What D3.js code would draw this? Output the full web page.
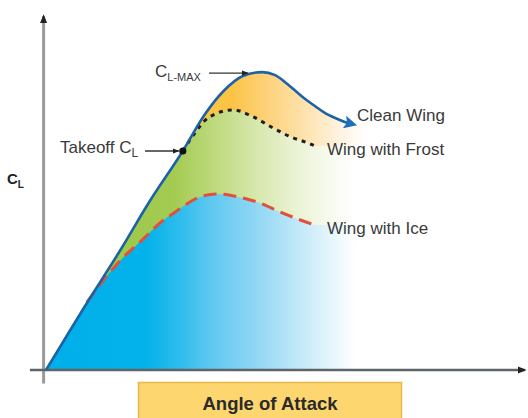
<!DOCTYPE html>
<html>
<head>
<meta charset="utf-8">
<script src="https://cdn.jsdelivr.net/npm/d3@7"></script>
<style>
  html, body { margin: 0; padding: 0; background: #fff; }
  svg { display: block; }
  text { font-family: "Liberation Sans", Arial, Helvetica, sans-serif; }
</style>
</head>
<body>
<svg id="chart" width="528" height="418"></svg>
<script>
// ---- data (angle of attack vs. lift coefficient, arbitrary units) ----
const cleanAoA = [0, 1.6, 3.1, 4.3, 5.7, 6.6, 7.4, 8.2, 9.0, 9.55, 9.95, 10.4, 10.8, 11.2, 11.6, 12.05, 12.45, 12.75];
const cleanCL  = [0, 0.21, 0.40, 0.56, 0.73, 0.85, 0.93, 0.98, 0.993, 0.983, 0.96, 0.93, 0.903, 0.88, 0.858, 0.84, 0.827, 0.82];

const frostAoA = [5.7, 6.2, 6.6, 7.1, 7.8, 8.6, 9.5, 10.2, 10.9, 11.2];
const frostCL  = [0.73, 0.79, 0.83, 0.855, 0.867, 0.845, 0.805, 0.777, 0.757, 0.747];

const iceAoA = [1.7, 2.4, 3.0, 4.0, 4.75, 5.5, 6.3, 7.1, 8.0, 8.9, 9.75, 10.6, 11.2];
const iceCL  = [0.225, 0.30, 0.357, 0.433, 0.49, 0.533, 0.573, 0.587, 0.577, 0.557, 0.527, 0.50, 0.483];

const takeoffAoA = 5.7, takeoffCL = 0.73;
const clMaxAoA = 9.0, clMaxCL = 0.993;
const fadeEndAoA = 14.0;   // where the shaded regions have faded to white

const seriesLabels = ["Clean Wing", "Wing with Frost", "Wing with Ice"];
const xTitle = "Angle of Attack";

// ---- scales ----
const svg = d3.select("#chart");
const x = d3.scaleLinear().domain([0, 20]).range([46, 526]);
const y = d3.scaleLinear().domain([0, 1.2]).range([370, 10]);

const zip = (a, b) => a.map((v, i) => ({a: v, c: b[i]}));
const clean = zip(cleanAoA, cleanCL);
const frost = zip(frostAoA, frostCL);
const ice = zip(iceAoA, iceCL);

const defs = svg.append("defs");
function grad(id, stops) {
  const g = defs.append("linearGradient").attr("id", id)
    .attr("gradientUnits", "userSpaceOnUse")
    .attr("x1", x(0)).attr("x2", x(fadeEndAoA)).attr("y1", 0).attr("y2", 0);
  stops.forEach(s => g.append("stop").attr("offset", s[0]).attr("stop-color", s[1]));
}
grad("gYellow", [[0, "#fbbf3a"], [0.55, "#fcc445"], [0.66, "#fdd27a"], [0.78, "#fee4b2"], [0.88, "#fff3e2"], [0.95, "#ffffff"], [1, "#ffffff"]]);
grad("gGreen",  [[0, "#96c53f"], [0.38, "#a3cb52"], [0.5, "#bdd97c"], [0.62, "#d6e7aa"], [0.75, "#ebf3d5"], [0.85, "#f8fbf0"], [0.92, "#ffffff"], [1, "#ffffff"]]);
grad("gBlue",   [[0, "#00afe9"], [0.3, "#03b2ea"], [0.4, "#2fbded"], [0.5, "#62c9f0"], [0.62, "#8fd6f4"], [0.74, "#bde7f8"], [0.85, "#e6f6fc"], [0.92, "#ffffff"], [1, "#ffffff"]]);

const area = d3.area().x(d => x(d.a)).y0(y(0)).y1(d => y(d.c)).curve(d3.curveMonotoneX);
const line = d3.line().x(d => x(d.a)).y(d => y(d.c)).curve(d3.curveMonotoneX);

const withTail = arr => arr.concat([{a: fadeEndAoA, c: arr[arr.length - 1].c}]);

// fills (painter's order)
svg.append("path").attr("d", area(withTail(clean))).attr("fill", "url(#gYellow)");
const greenData = clean.filter(d => d.a < takeoffAoA).concat(frost);
svg.append("path").attr("d", area(withTail(greenData))).attr("fill", "url(#gGreen)");
const blueData = [clean[0]].concat(ice);
svg.append("path").attr("d", area(withTail(blueData))).attr("fill", "url(#gBlue)");

// markers
defs.append("marker").attr("id", "arrBlue").attr("viewBox", "0 0 10 10")
  .attr("refX", 6).attr("refY", 5).attr("markerWidth", 5).attr("markerHeight", 5)
  .attr("orient", "auto").attr("markerUnits", "strokeWidth")
  .append("path").attr("d", "M0,0 L10,5 L0,10 L2,5 Z").attr("fill", "#1f6fc0");
defs.append("marker").attr("id", "arrDark").attr("viewBox", "0 0 10 10")
  .attr("refX", 9).attr("refY", 5).attr("markerWidth", 7).attr("markerHeight", 7)
  .attr("orient", "auto").attr("markerUnits", "userSpaceOnUse")
  .append("path").attr("d", "M0,1 L10,5 L0,9 Z").attr("fill", "#222");
defs.append("marker").attr("id", "arrAxis").attr("viewBox", "0 0 10 10")
  .attr("refX", 8).attr("refY", 5).attr("markerWidth", 9).attr("markerHeight", 9)
  .attr("orient", "auto").attr("markerUnits", "userSpaceOnUse")
  .append("path").attr("d", "M0,1 L10,5 L0,9 Z").attr("fill", "#222");

// axes
svg.append("line").attr("x1", x(-0.1)).attr("x2", x(-0.1)).attr("y1", y(-0.045)).attr("y2", y(1.18))
  .attr("stroke", "#9a9a9a").attr("stroke-width", 3).attr("marker-end", "url(#arrAxis)");
svg.append("line").attr("x1", x(-0.67)).attr("x2", x(19.95)).attr("y1", y(0)).attr("y2", y(0))
  .attr("stroke", "#5e6468").attr("stroke-width", 2.5).attr("marker-end", "url(#arrAxis)");

// curves
svg.append("path").attr("d", line(ice)).attr("fill", "none")
  .attr("stroke", "#e0503c").attr("stroke-width", 3).attr("stroke-dasharray", "13,7");
svg.append("path").attr("d", line(frost)).attr("fill", "none")
  .attr("stroke", "#1e1e1e").attr("stroke-width", 3).attr("stroke-dasharray", "4,5");
svg.append("path").attr("d", line(clean)).attr("fill", "none")
  .attr("stroke", "#1e62a6").attr("stroke-width", 2.6).attr("marker-end", "url(#arrBlue)");

// takeoff point
svg.append("circle").attr("cx", x(takeoffAoA)).attr("cy", y(takeoffCL)).attr("r", 3.6).attr("fill", "#111");

// annotations
const txt = (t, px, py, size, opts = {}) => svg.append("text").attr("x", px).attr("y", py)
  .attr("font-size", size).attr("fill", opts.fill || "#3a3a3a")
  .attr("font-weight", opts.bold ? "bold" : "normal").attr("text-anchor", opts.anchor || "start").text(t);

// C_L-MAX
const cm = svg.append("text").attr("x", 155).attr("y", 77).attr("font-size", 17).attr("fill", "#3a3a3a");
cm.append("tspan").text("C");
cm.append("tspan").attr("dy", 4).attr("font-size", 11).text("L-MAX");
svg.append("line").attr("x1", 209).attr("x2", x(clMaxAoA) - 14).attr("y1", y(clMaxCL) + 1).attr("y2", y(clMaxCL) + 1)
  .attr("stroke", "#333").attr("stroke-width", 1.3).attr("marker-end", "url(#arrDark)");

// Takeoff C_L
const tk = svg.append("text").attr("x", 60).attr("y", 153).attr("font-size", 17).attr("fill", "#3a3a3a");
tk.append("tspan").text("Takeoff C");
tk.append("tspan").attr("dy", 4).attr("font-size", 12).text("L");
svg.append("line").attr("x1", 145).attr("x2", x(takeoffAoA) - 4).attr("y1", y(takeoffCL)).attr("y2", y(takeoffCL))
  .attr("stroke", "#333").attr("stroke-width", 1.3).attr("marker-end", "url(#arrDark)");

// series labels
txt(seriesLabels[0], 357, 121, 17);
txt(seriesLabels[1], 327, 155, 17);
txt(seriesLabels[2], 327, 234, 17);

// y label C_L
const yl = svg.append("text").attr("x", 7).attr("y", 184).attr("font-size", 15).attr("font-weight", "bold").attr("fill", "#222");
yl.append("tspan").text("C");
yl.append("tspan").attr("dy", 4).attr("font-size", 10).text("L");

// x title box
svg.append("rect").attr("x", 138.5).attr("y", 382.5).attr("width", 263).attr("height", 45)
  .attr("fill", "#fdd670").attr("stroke", "#e6b948").attr("stroke-width", 1.5);
txt(xTitle, 270, 410, 18.5, {bold: true, anchor: "middle", fill: "#2a2a2a"});
</script>
</body>
</html>
